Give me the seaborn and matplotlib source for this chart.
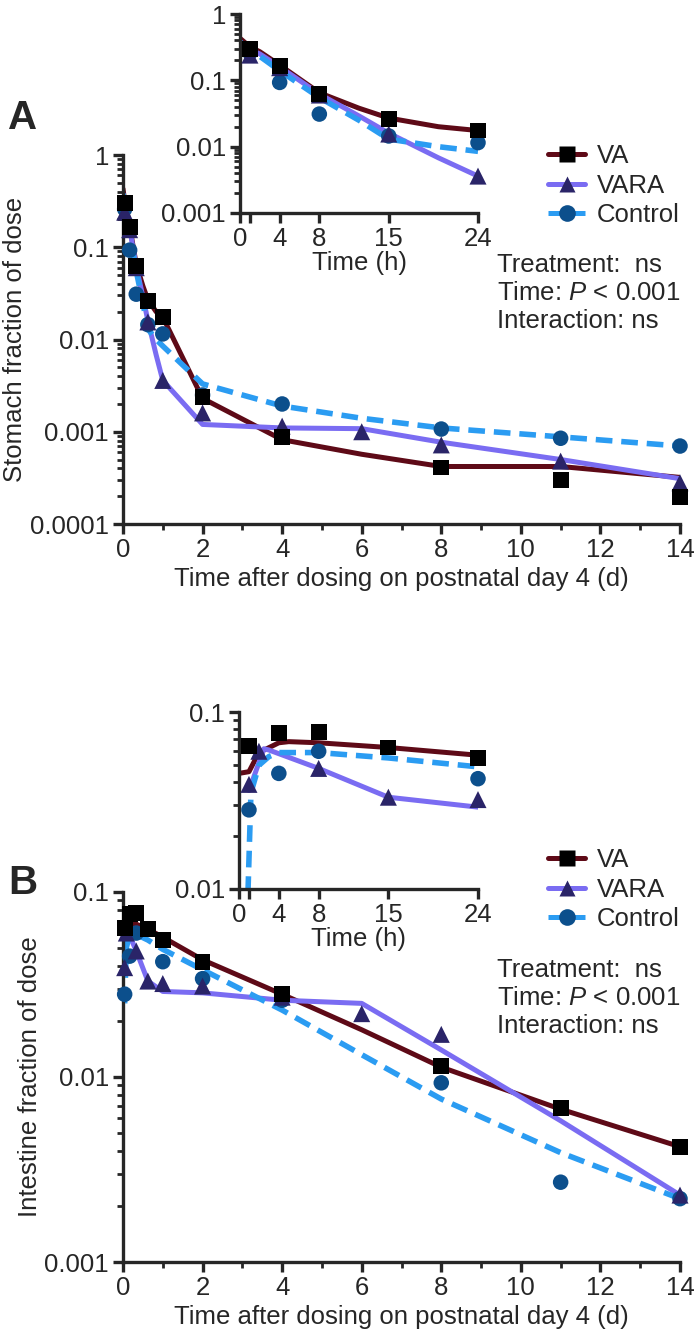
import numpy as np
import pandas as pd
import matplotlib
matplotlib.use("Agg")
import matplotlib.pyplot as plt
import seaborn as sns
from matplotlib.lines import Line2D

sns.set_style("ticks")
plt.rcParams["font.family"] = ["Liberation Sans", "DejaVu Sans"]
plt.rcParams["mathtext.fontset"] = "custom"
plt.rcParams["mathtext.rm"] = "Liberation Sans"
plt.rcParams["mathtext.it"] = "Liberation Sans:italic"

nan = np.nan
GROUPS = ["VA", "VARA", "Control"]
FS = 18.5

# sampling times: first day in hours, then days
obs_hours = [1, 2, 4, 8, 15, 24]
obs_days = [2, 4, 6, 8, 11, 14]

# stomach, observed
st_va = [0.30, nan, 0.165, 0.063, 0.026, 0.0175, 0.0024, 0.00087, nan, 0.00041, 0.00030, 0.000196]
st_vara = [0.24, nan, 0.155, 0.060, 0.0155, 0.0036, 0.0016, 0.00115, 0.0010, 0.00072, 0.00048, 0.00028]
st_ctl = [0.26, nan, 0.093, 0.031, 0.0145, 0.0115, 0.0025, 0.0020, nan, 0.00107, 0.00085, 0.00070]

# intestine, observed
in_va = [0.064, nan, 0.076, 0.077, 0.063, 0.055, 0.042, 0.028, nan, 0.0115, 0.0068, 0.0042]
in_vara = [0.039, 0.060, nan, 0.048, 0.033, 0.032, 0.031, 0.027, 0.022, 0.017, nan, 0.0023]
in_ctl = [0.028, nan, 0.045, 0.060, nan, 0.042, 0.034, 0.026, nan, 0.0093, 0.0027, 0.0022]

# fitted curves, stomach (hours then days)
fit_st_hours = [0, 1, 2, 4, 8, 12, 15, 20, 24]
fit_st_days = [2, 4, 6, 8, 11, 14]
fit_st_va = [0.43, 0.32, 0.27, 0.17, 0.065, 0.038, 0.027, 0.020, 0.0175,
             0.0023, 0.00082, 0.00057, 0.00042, 0.00042, 0.00032]
fit_st_vara = [0.38, 0.29, 0.25, 0.16, 0.062, 0.029, 0.016, 0.0068, 0.0036,
               0.0012, 0.0011, 0.00108, 0.00077, 0.0005, 0.00031]
fit_st_ctl = [0.38, 0.28, 0.23, 0.14, 0.055, 0.025, 0.013, 0.010, 0.0085,
              0.0033, 0.0019, 0.0014, 0.0011, 0.00088, 0.0007]

# fitted curves, intestine
fit_in_va_h = [0, 1, 2, 4, 5, 8, 15, 24]
fit_in_va = [0.045, 0.046, 0.059, 0.067, 0.068, 0.067, 0.063, 0.057]
fit_in_vara_h = [1, 2.5, 3, 8, 15, 24]
fit_in_vara = [0.036, 0.062, 0.061, 0.048, 0.033, 0.029]
fit_in_ctl_h = [0.9, 1.2, 2, 3, 4, 8, 15, 24]
fit_in_ctl = [0.0095, 0.035, 0.050, 0.056, 0.059, 0.059, 0.055, 0.049]
fit_in_days = [2, 4, 6, 8, 11, 14]
fit_in_va_d = [0.043, 0.028, 0.018, 0.0113, 0.0067, 0.0042]
fit_in_vara_d = [0.0285, 0.026, 0.025, 0.014, 0.0058, 0.0023]
fit_in_ctl_d = [0.038, 0.023, 0.0132, 0.0076, 0.0039, 0.0022]
# control curve on the day axis starts higher (coarser model output)
fit_in_ctl_early_h = [1, 2, 4, 8, 15, 24]
fit_in_ctl_early = [0.025, 0.050, 0.059, 0.059, 0.055, 0.049]

LINE_C = {"VA": "#5e0a17", "VARA": "#7a6cf2", "Control": "#2b9cf2"}
MARK_C = {"VA": "#000000", "VARA": "#2a2468", "Control": "#0c4f8c"}
MARKER = {"VA": "s", "VARA": "^", "Control": "o"}
MSIZE = {"VA": 130, "VARA": 150, "Control": 125}
DASH = {"VA": "", "VARA": "", "Control": (3.0, 1.6)}


def obs_frame(va, vara, ctl, hours_axis):
    t_d = [h / 24 for h in obs_hours] + obs_days
    rows = []
    for g, vals in zip(GROUPS, [va, vara, ctl]):
        for t, v in zip(t_d, vals):
            rows.append({"group": g, "t": t * 24 if hours_axis else t, "y": v})
    df = pd.DataFrame(rows).dropna()
    if hours_axis:
        df = df[df["t"] <= 24]
    return df


def draw_line(ax, x, y, g):
    d = pd.DataFrame({"x": x, "y": y})
    sns.lineplot(data=d, x="x", y="y", ax=ax, color=LINE_C[g], lw=3.6,
                 dashes=False, sort=False, estimator=None, legend=False,
                 zorder=2)
    ln = ax.get_lines()[-1]
    if DASH[g]:
        ln.set_dashes(DASH[g])
        ln.set_linewidth(4.0)


def draw_points(ax, df):
    for g in ["Control", "VARA", "VA"]:
        sub = df[df["group"] == g]
        sns.scatterplot(data=sub, x="t", y="y", ax=ax, marker=MARKER[g],
                        s=MSIZE[g], color=MARK_C[g], edgecolor="none",
                        legend=False, zorder=3, clip_on=False)


def style_axes(ax, ylim, yticks, ylabels, xticks, xlabels, xminor):
    ax.set_yscale("log")
    ax.set_ylim(*ylim)
    ax.set_yticks(yticks, labels=ylabels)
    ax.set_xticks(xticks, labels=xlabels)
    ax.set_xticks(xminor, minor=True)
    for s in ["top", "right"]:
        ax.spines[s].set_visible(False)
    for s in ["left", "bottom"]:
        ax.spines[s].set_linewidth(2.4)
    ax.tick_params(axis="both", which="major", length=7, width=2.4,
                   labelsize=FS, pad=3, direction="out")
    ax.tick_params(axis="both", which="minor", length=4, width=2.0,
                   direction="out")
    ax.tick_params(axis="y", which="minor", labelleft=False)
    ax.set_xlabel("")
    ax.set_ylabel("")


fig = plt.figure(figsize=(6.97, 13.41), dpi=100)
W, H = 697, 1341


def box(l, r, t, b):
    return [l / W, 1 - b / H, (r - l) / W, (b - t) / H]


axA = fig.add_axes(box(123, 680, 155, 524))
axAi = fig.add_axes(box(240, 478, 14, 213))
axB = fig.add_axes(box(123, 680, 892, 1262))
axBi = fig.add_axes(box(239, 478, 712, 889))

# ---- panel A: stomach
t_fit_st = [h / 24 for h in fit_st_hours] + fit_st_days
for g, vals in zip(GROUPS, [fit_st_va, fit_st_vara, fit_st_ctl]):
    draw_line(axA, t_fit_st, vals, g)
    n = len(fit_st_hours)
    draw_line(axAi, fit_st_hours, vals[:n], g)
draw_points(axA, obs_frame(st_va, st_vara, st_ctl, False))
draw_points(axAi, obs_frame(st_va, st_vara, st_ctl, True))

main_xt = list(range(0, 15, 2))
main_xm = list(range(1, 15, 2))
style_axes(axA, (1e-4, 1), [1e-4, 1e-3, 1e-2, 1e-1, 1],
           ["0.0001", "0.001", "0.01", "0.1", "1"],
           main_xt, [str(v) for v in main_xt], main_xm)
axA.set_xlim(0, 14)
axA.set_xlabel("Time after dosing on postnatal day 4 (d)", fontsize=FS, labelpad=4)
axA.set_ylabel("Stomach fraction of dose", fontsize=FS, labelpad=2)

ins_xt = [0, 1, 4, 8, 15, 24]
ins_xl = ["0", "", "4", "8", "15", "24"]
style_axes(axAi, (1e-3, 1), [1e-3, 1e-2, 1e-1, 1], ["0.001", "0.01", "0.1", "1"],
           ins_xt, ins_xl, [])
axAi.set_xlim(0, 24)
axAi.set_xlabel("Time (h)", fontsize=FS, labelpad=0)

# ---- panel B: intestine
draw_line(axB, [h / 24 for h in fit_in_va_h] + fit_in_days, fit_in_va + fit_in_va_d, "VA")
draw_line(axB, [h / 24 for h in fit_in_vara_h] + fit_in_days, fit_in_vara + fit_in_vara_d, "VARA")
draw_line(axB, [h / 24 for h in fit_in_ctl_early_h] + fit_in_days, fit_in_ctl_early + fit_in_ctl_d, "Control")
draw_line(axBi, fit_in_va_h, fit_in_va, "VA")
draw_line(axBi, fit_in_vara_h, fit_in_vara, "VARA")
draw_line(axBi, fit_in_ctl_h, fit_in_ctl, "Control")
draw_points(axB, obs_frame(in_va, in_vara, in_ctl, False))
draw_points(axBi, obs_frame(in_va, in_vara, in_ctl, True))

style_axes(axB, (1e-3, 0.1), [1e-3, 1e-2, 1e-1], ["0.001", "0.01", "0.1"],
           main_xt, [str(v) for v in main_xt], main_xm)
axB.set_xlim(0, 14)
axB.set_xlabel("Time after dosing on postnatal day 4 (d)", fontsize=FS, labelpad=4)
axB.set_ylabel("Intestine fraction of dose", fontsize=FS, labelpad=2)

style_axes(axBi, (1e-2, 0.1), [1e-2, 1e-1], ["0.01", "0.1"], ins_xt, ins_xl, [])
axBi.set_xlim(0, 24)
axBi.set_xlabel("Time (h)", fontsize=FS, labelpad=0)

# ---- legends and stats text
handles = []
for g in GROUPS:
    h = Line2D([], [], color=LINE_C[g], lw=3.6, marker=MARKER[g],
               markersize=12, markerfacecolor=MARK_C[g], markeredgecolor="none")
    if DASH[g]:
        h.set_dashes(DASH[g])
    handles.append(h)

for top in [144, 848]:
    fig.legend(handles, GROUPS, loc="upper left",
               bbox_to_anchor=(548 / W, 1 - top / H), frameon=False,
               fontsize=FS, handlelength=1.45, handletextpad=0.45,
               labelspacing=0.22, borderpad=0, borderaxespad=0)

stats = ["Treatment:  ns", "Time: $\\it{P}$ < 0.001", "Interaction: ns"]
for y0 in [265, 970]:
    for i, s in enumerate(stats):
        fig.text(497 / W, 1 - (y0 + 28 * i) / H, s, fontsize=FS, va="center")

fig.text(8 / W, 1 - 118 / H, "A", fontsize=29, fontweight="bold", va="center")
fig.text(8 / W, 1 - 883 / H, "B", fontsize=29, fontweight="bold", va="center")

fig.savefig("out.png", dpi=100)
